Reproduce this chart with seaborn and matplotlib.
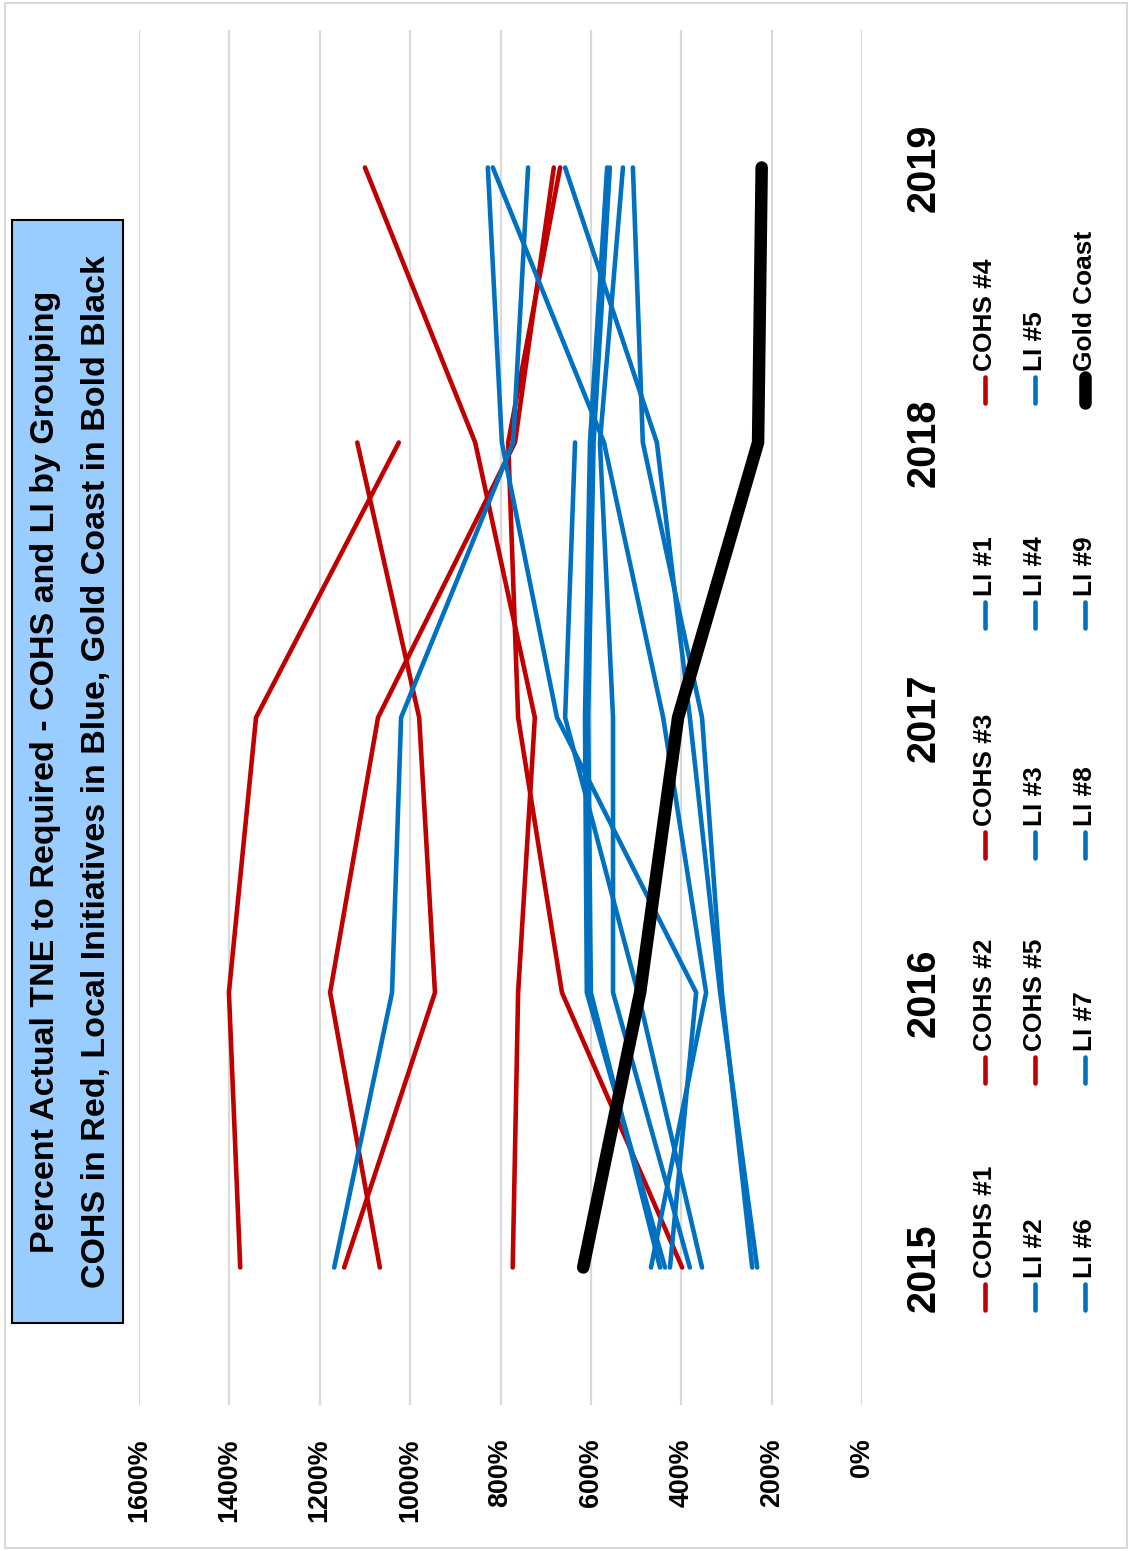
import numpy as np
import pandas as pd
import matplotlib
matplotlib.use("Agg")
import matplotlib.pyplot as plt
from matplotlib import font_manager
from matplotlib.patches import Rectangle
import seaborn as sns

# ---- data: percent of actual TNE to required, by year ----
years = ["2015", "2016", "2017", "2018", "2019"]
nan = np.nan

cohs_1 = [1376, 1401, 1341, 1025, nan]
cohs_2 = [1067, 1177, 1071, 768, 682]
cohs_3 = [1146, 945, 980, 1117, nan]
cohs_4 = [773, 761, 724, 856, 1100]
cohs_5 = [398, 664, 761, 783, 668]

li_1 = [1168, 1040, 1020, 772, 739]
li_2 = [425, 367, 675, 797, 828]
li_3 = [436, 609, 613, 602, 564]
li_4 = [381, 551, 551, 580, 529]
li_5 = [354, 496, 657, 635, nan]
li_6 = [467, 345, 440, 571, 817]
li_7 = [232, 314, 381, 454, 657]
li_8 = [243, 310, 354, 485, 507]
li_9 = [447, 600, 606, 594, 558]

gold_coast = [617, 491, 407, 230, 222]

value_ticks = [0, 200, 400, 600, 800, 1000, 1200, 1400, 1600]

series = {
    "COHS #1": cohs_1, "COHS #2": cohs_2, "COHS #3": cohs_3,
    "COHS #4": cohs_4, "COHS #5": cohs_5,
    "LI #1": li_1, "LI #2": li_2, "LI #3": li_3, "LI #4": li_4, "LI #5": li_5,
    "LI #6": li_6, "LI #7": li_7, "LI #8": li_8, "LI #9": li_9,
}

RED = "#C00000"
BLUE = "#0070C0"
palette = {k: (RED if k.startswith("COHS") else BLUE) for k in series}

rows = []
for name, vals in series.items():
    for i, v in enumerate(vals):
        rows.append({"series": name, "pos": i, "value": v})
df = pd.DataFrame(rows).dropna()
gc = pd.DataFrame({"pos": range(len(years)), "value": gold_coast})

# ---- style ----
sns.set_theme(style="white")
avail = {f.name for f in font_manager.fontManager.ttflist}
if "Liberation Sans Narrow" in avail:
    FAM, K = "Liberation Sans Narrow", 1.0
else:
    FAM, K = "Liberation Sans", 0.84
plt.rcParams["font.family"] = [FAM, "DejaVu Sans"]
plt.rcParams["font.weight"] = "bold"
plt.rcParams["text.color"] = "black"
plt.rcParams["xtick.color"] = "black"
plt.rcParams["ytick.color"] = "black"

W, H = 1131, 1551
fig = plt.figure(figsize=(W / 100, H / 100), dpi=100)
fig.patch.set_facecolor("white")

# plot area: value axis runs right-to-left, years run bottom-to-top
ax = fig.add_axes([139 / W, 1 - 1405 / H, (862 - 139) / W, (1405 - 30) / H])

sns.lineplot(data=df, x="value", y="pos", hue="series", hue_order=list(series),
             palette=palette, orient="y", sort=False, estimator=None,
             linewidth=3.3, solid_capstyle="round", legend=False, ax=ax)
sns.lineplot(data=gc, x="value", y="pos", color="black", orient="y", sort=False,
             estimator=None, linewidth=9, solid_capstyle="round", legend=False, ax=ax)

ax.set_xlim(1600, 0)
ax.set_ylim(-0.5, len(years) - 0.5)
ax.set_xlabel("")
ax.set_ylabel("")
for s in ax.spines.values():
    s.set_visible(False)
ax.grid(axis="x", color="#D9D9D9", linewidth=1.6)
ax.grid(axis="y", visible=False)
ax.set_axisbelow(True)

ax.set_xticks(value_ticks)
ax.set_xticklabels([f"{v}%" for v in value_ticks], rotation=90,
                   fontsize=23 * K, fontweight="bold", color="black")
ax.tick_params(axis="x", length=0, pad=24)

ax.yaxis.tick_right()
ax.set_yticks(range(len(years)))
ax.set_yticklabels(years, rotation=90, va="center", fontsize=34 * K,
                   fontweight="bold", color="black")
ax.tick_params(axis="y", length=0, pad=31)

# ---- overlay in pixel coordinates for frame, title and legend ----
ov = fig.add_axes([0, 0, 1, 1])
ov.set_xlim(0, W)
ov.set_ylim(H, 0)
ov.axis("off")

ov.add_patch(Rectangle((5, 3), 1122, 1545, fill=False, edgecolor="#D9D9D9", linewidth=1.5))

ov.add_patch(Rectangle((12, 220), 111, 1103, facecolor="#99CCFF", edgecolor="black", linewidth=1.5))
ov.text(71, 772,
        "Percent Actual TNE to Required - COHS and LI by Grouping\n"
        "COHS in Red, Local Initiatives in Blue, Gold Coast in Bold Black",
        rotation=90, ha="center", va="center", multialignment="center",
        fontsize=29.2 * K, fontweight="bold", linespacing=1.85, color="black")

# legend: three columns, five entries each
legend_rows = [
    ["COHS #1", "COHS #2", "COHS #3", "LI #1", "COHS #4"],
    ["LI #2", "COHS #5", "LI #3", "LI #4", "LI #5"],
    ["LI #6", "LI #7", "LI #8", "LI #9", "Gold Coast"],
]
col_x = [985, 1035, 1085]
entry_y = [1312, 1085, 860, 630, 405]
for cx, names in zip(col_x, legend_rows):
    for ey, name in zip(entry_y, names):
        if name == "Gold Coast":
            color, lw = "black", 9
        else:
            color, lw = palette[name], 3.3
        ov.plot([cx, cx], [ey - 2, ey - 28], color=color, linewidth=lw, solid_capstyle="round")
        ov.text(cx, ey - 34, name, rotation=90, ha="center", va="bottom",
                fontsize=22.5 * K, fontweight="bold", color="black")

fig.savefig("out.png", dpi=100)
